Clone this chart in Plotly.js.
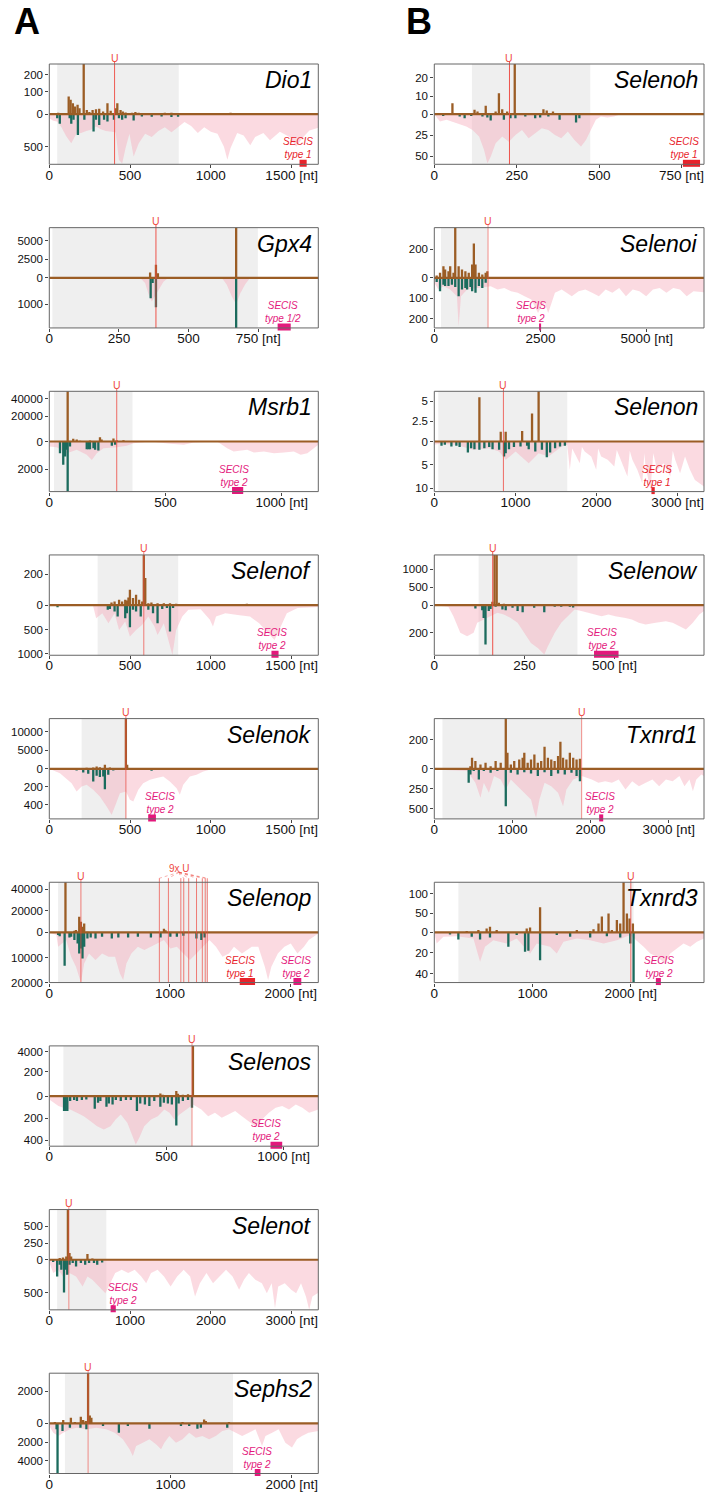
<!DOCTYPE html>
<html><head><meta charset="utf-8">
<script src="https://cdn.plot.ly/plotly-3.0.1.min.js"></script>
<style>body{margin:0;background:#fff}#chart{width:707px;height:1493px}</style>
</head><body><div id="chart"></div>
<script>
// ================= DATA =================
const genes = ['Dio1','Gpx4','Msrb1','Selenof','Selenok','Selenop','Selenos','Selenot','Sephs2','Selenoh','Selenoi','Selenon','Selenow','Txnrd1','Txnrd3'];
const cdsStart = [49,11,20,299,200,73,60,97,129,114,159,49,123,104,245];
const cdsEnd   = [801,749,358,798,478,1315,609,706,1515,473,1265,1639,397,1886,2029];
const secPos = [[404],[383],[290],[585],[474],[262,912,987,1090,1114,1155,1220,1268,1292,1309],[609],[242],[320],[228],[1265],[852],[162],[1886],[2001]];
const secis = [
 [[1549,1593,'type 1']],[[820,867,'type 1/2']],[[786,834,'type 2']],[[1375,1419,'type 2']],[[612,660,'type 2']],
 [[1578,1705,'type 1'],[2023,2088,'type 2']],[[944,994,'type 2']],[[759,823,'type 2']],[[1695,1742,'type 2']],
 [[754,806,'type 1']],[[2466,2514,'type 2']],[[2677,2718,'type 1']],[[443,511,'type 2']],[[2110,2162,'type 2']],[[2256,2307,'type 2']]
];
// x-axis lengths [nt] and ticks
const xMax = [1665,966,1157,1665,1665,2229,1148,3329,2219,818,6349,3325,748,3452,2746];
const xTicks = [[0,500,1000,1500],[0,250,500,750],[0,500,1000],[0,500,1000,1500],[0,500,1000,1500],[0,1000,2000],[0,500,1000],[0,1000,2000,3000],[0,1000,2000],[0,250,500,750],[0,2500,5000],[0,1000,2000,3000],[0,250,500],[0,1000,2000,3000],[0,1000,2000]];
// upper (footprint) and lower (coverage) scales
const topMax = [263,6750,48700,327,13600,46500,5160,750,3130,27.7,353,6.25,1400,343,129.5];
const topTicks = [[0,100,200],[0,2500,5000],[0,20000,40000],[0,200],[0,5000,10000],[0,20000,40000],[0,200,4000],[0,250,500],[0,2000],[0,10,20],[0,200],[0,2.5,5],[0,500,1000],[0,200],[0,50,100]];
const topBreak = [[100,0.446],null,[20000,0.5],null,null,null,[200,0.488],null,null,null,null,null,null,null,null];
const botMax = [772,1900,3623,1027,554,20000,455,758,5350,59.5,244,10.7,362,630,48.8];
const botTicks = [[500],[1000],[2000],[500,1000],[200,400],[10000,20000],[200,400],[500],[2000,4000],[25,50],[100,200],[5,10],[200],[250,500],[20,40]];

// per gene: [position nt, value]
const dio1Top = [[55,7],[120,79],[132,64],[146,49],[159,34],[175,42],[187,27],[213,300],[232,19],[248,10],[268,19],[289,22],[309,24],[333,12],[360,49],[380,15],[411,27],[421,49],[441,19],[455,12],[472,8],[512,7],[533,10],[553,6],[614,5],[675,5],[715,6],[756,6],[787,5],[1122,7]];
const dio1Bot = [[49,62],[65,149],[126,62],[136,149],[150,87],[177,319],[217,87],[274,268],[289,87],[309,165],[339,87],[360,113],[400,87],[431,62],[451,87],[472,62],[522,98],[573,36],[634,40],[695,36],[756,45],[797,40]];
const dio1Cov = [[0,62],[24,100],[49,113],[75,200],[106,345],[136,448],[167,300],[197,290],[228,257],[258,240],[289,190],[319,230],[350,257],[380,270],[411,280],[431,700],[451,760],[472,520],[496,300],[522,650],[553,450],[593,300],[634,350],[675,260],[715,200],[756,280],[797,200],[837,120],[878,180],[919,290],[959,200],[1000,270],[1041,300],[1081,500],[1102,700],[1122,520],[1163,290],[1203,330],[1244,480],[1274,350],[1325,290],[1366,400],[1427,270],[1488,350],[1528,500],[1569,360],[1610,250],[1665,210]];
const gpx4Top = [[362,720],[383,1755],[390,630],[671,7500]];
const gpx4Bot = [[364,773],[371,200],[383,1115],[671,2100]];
const gpx4Cov = [[0,0],[326,0],[344,200],[356,600],[368,900],[380,700],[392,500],[410,150],[428,0],[619,0],[637,250],[655,700],[671,1000],[685,600],[703,250],[721,0],[966,0]];
const msrb1Top = [[68,400],[79,52000],[103,2200],[118,1600],[132,500],[175,800],[218,3300],[225,1600],[276,2300],[290,1000],[319,1000]];
const msrb1Bot = [[46,845],[60,1690],[68,1087],[75,600],[79,4000],[89,360],[161,555],[168,555],[175,555],[190,483],[197,600],[211,650],[269,314],[283,240]];
const msrb1Cov = [[0,362],[32,410],[75,845],[118,600],[161,966],[183,1330],[204,845],[233,483],[290,410],[333,314],[362,120],[434,0],[520,170],[578,240],[621,72],[722,0],[765,483],[793,725],[851,600],[880,797],[923,725],[966,845],[1009,797],[1052,725],[1081,966],[1110,845],[1157,240]];
const selenofTop = [[51,5],[385,17],[404,24],[432,35],[451,24],[470,35],[480,30],[490,50],[499,100],[518,46],[537,68],[556,35],[575,24],[585,360],[594,177],[613,13],[632,17],[670,13],[709,13],[747,13],[785,9],[1223,9]];
const selenofBot = [[51,41],[362,96],[375,80],[404,130],[423,233],[470,267],[480,164],[499,452],[518,96],[537,130],[566,233],[613,96],[642,164],[670,370],[699,80],[728,60],[747,541],[766,60]];
const selenofCov = [[0,0],[270,0],[290,267],[328,164],[366,370],[404,164],[432,507],[470,336],[499,644],[537,507],[575,404],[613,233],[651,438],[670,610],[709,370],[747,850],[762,1020],[785,507],[823,233],[861,96],[937,82],[994,301],[1013,438],[1032,233],[1090,164],[1166,200],[1242,233],[1299,370],[1356,575],[1394,712],[1423,507],[1470,164],[1537,60],[1665,40]];
const selenokTop = [[231,272],[272,363],[293,635],[313,450],[344,1090],[375,363],[474,15000],[482,1090],[1489,180]];
const selenokBot = [[169,18],[210,41],[241,55],[272,140],[293,77],[313,92],[334,85],[344,225],[365,66],[396,18],[633,22]];
const selenokCov = [[0,0],[66,48],[138,159],[169,251],[200,196],[231,177],[272,232],[313,306],[355,417],[386,509],[406,417],[437,269],[474,251],[499,343],[520,362],[551,232],[581,159],[623,122],[664,103],[705,85],[746,140],[788,214],[808,288],[829,177],[870,85],[911,66],[953,30],[984,18],[1014,0],[1665,0]];
const selenopTop = [[134,50000],[208,1500],[221,2170],[248,14570],[262,9920],[275,5270],[289,8370],[316,600],[400,400],[600,500],[950,3410],[963,2000],[1100,500]];
const selenopBot = [[73,1064],[86,1500],[127,13300],[167,2000],[181,1700],[208,3060],[235,4390],[248,8380],[262,6380],[275,10370],[289,5720],[316,2400],[343,2000],[383,2400],[437,1700],[518,2400],[572,2000],[653,2000],[734,1700],[842,2000],[922,2000],[1003,1700],[1057,1700],[1111,1300],[1219,2400],[1260,3060],[1287,2000]];
const selenopCov = [[0,0],[59,1064],[73,5720],[140,3060],[181,9700],[221,13700],[262,20000],[289,12370],[329,8380],[383,11040],[437,8380],[491,9700],[545,9700],[585,16360],[612,19000],[639,12370],[680,8380],[734,5720],[788,7000],[842,5720],[896,4390],[950,3060],[1003,6380],[1057,5720],[1111,8380],[1165,11040],[1219,8380],[1273,5720],[1327,3060],[1381,5720],[1435,9700],[1489,8380],[1530,5720],[1596,8380],[1678,5720],[1732,5720],[1786,13700],[1813,19000],[1840,13700],[1894,8380],[1948,5720],[2001,4390],[2056,8380],[2110,5720],[2150,3060],[2229,400]];
const selenosTop = [[161,8],[474,22],[484,12],[542,41],[549,20],[570,12],[592,16],[613,5500]];
const selenosBot = [[63,136],[70,136],[77,136],[89,45],[106,36],[118,45],[139,36],[158,30],[194,115],[208,60],[218,45],[244,97],[254,67],[270,76],[284,36],[305,45],[327,36],[348,36],[374,136],[388,67],[408,76],[427,91],[448,45],[474,97],[489,61],[506,67],[523,76],[542,267],[552,67],[570,45],[592,36],[609,106]];
const selenosCov = [[0,30],[17,60],[39,91],[60,106],[89,121],[118,152],[147,182],[175,227],[204,273],[233,303],[261,273],[283,212],[305,167],[333,242],[355,364],[369,440],[384,379],[405,273],[434,212],[463,182],[491,121],[513,152],[534,212],[556,167],[585,121],[613,76],[649,121],[678,182],[707,152],[736,197],[764,167],[793,136],[822,182],[851,227],[879,273],[908,212],[937,152],[966,106],[994,91],[1023,121],[1052,76],[1080,106],[1109,152],[1148,121]];
const selenotTop = [[129,25],[169,35],[210,50],[230,900],[250,100],[270,50],[472,85],[533,20],[613,10]];
const selenotBot = [[48,35],[97,253],[129,76],[149,152],[182,495],[202,152],[222,227],[250,76],[290,50],[331,101],[391,50],[444,76],[492,50],[553,50],[593,76],[654,40]];
const selenotCov = [[0,35],[48,202],[109,152],[169,253],[250,202],[331,253],[412,404],[472,253],[533,303],[613,404],[694,505],[755,354],[815,202],[896,152],[977,202],[1057,152],[1138,253],[1199,354],[1259,202],[1340,152],[1420,253],[1501,404],[1582,253],[1663,152],[1743,253],[1804,556],[1864,354],[1945,202],[2026,354],[2106,253],[2187,152],[2268,253],[2349,455],[2409,303],[2470,202],[2550,303],[2631,354],[2692,505],[2752,354],[2793,732],[2833,404],[2914,354],[2994,455],[3055,505],[3115,354],[3176,556],[3216,758],[3256,556],[3329,500]];
const sephs2Top = [[46,82],[115,205],[178,349],[211,82],[260,410],[279,205],[301,143],[320,3500],[334,492],[347,349],[1099,82],[1277,246],[1291,143],[1482,82]];
const sephs2Bot = [[60,637],[68,5600],[109,814],[170,460],[257,460],[306,637],[443,283],[574,991],[648,283],[826,566],[1086,283],[1154,283],[1222,566],[1250,460],[1468,460]];
const sephs2Cov = [[0,283],[33,991],[74,1345],[115,991],[170,637],[224,460],[306,637],[388,460],[470,637],[539,991],[607,1700],[662,2760],[689,3470],[716,2407],[771,2053],[826,1700],[880,2230],[922,2760],[949,2053],[990,1345],[1045,2053],[1099,1700],[1154,991],[1209,1522],[1263,1345],[1318,1700],[1373,1345],[1427,814],[1482,637],[1537,991],[1591,1345],[1646,991],[1701,637],[1755,2407],[1783,1345],[1838,991],[1892,637],[1947,2053],[2002,2584],[2043,1700],[2084,1345],[2138,991],[2219,814]];
const selenohTop = [[55,6.1],[122,2.4],[131,1.5],[156,4.6],[186,1.5],[196,11.6],[206,2.8],[221,1.5],[244,30],[331,2.8],[341,2],[360,1.5]];
const selenohBot = [[27,2],[77,2.8],[92,4.8],[112,2],[146,2.8],[161,4],[171,7.5],[211,6.7],[231,4.8],[246,4.8],[276,2.8],[306,4.8],[321,4],[346,2.8],[380,6.7],[430,9.9],[440,4.8]];
const selenohCov = [[0,0],[17,8.7],[37,6.7],[67,10.7],[97,14.7],[116,18.7],[136,26.6],[151,42.5],[161,58.4],[171,50.4],[186,34.5],[206,26.6],[226,32.6],[246,24.6],[266,18.7],[286,28.6],[306,22.6],[326,16.7],[346,18.7],[366,24.6],[385,28.6],[405,20.6],[425,30.6],[445,38.5],[460,30.6],[475,18.7],[490,6.7],[505,2.8],[525,4],[545,2.8],[565,0],[818,0]];
const selenoiTop = [[56,16],[135,35],[215,82],[255,59],[334,47],[374,82],[453,35],[493,370],[573,82],[652,59],[732,47],[811,35],[891,94],[931,242],[970,94],[1050,35],[1130,24],[1209,35],[1249,47]];
const selenoiBot = [[56,20],[135,65],[215,33],[255,40],[334,40],[414,33],[493,45],[573,90],[652,57],[732,50],[772,57],[851,45],[891,65],[970,73],[1050,40],[1130,49],[1209,24]];
const selenoiCov = [[0,24],[95,57],[215,41],[374,57],[533,90],[573,236],[628,90],[772,57],[1010,49],[1329,41],[1488,57],[1647,49],[1806,65],[1965,73],[2124,90],[2283,106],[2442,171],[2522,138],[2601,122],[2681,171],[2760,122],[2840,73],[2999,57],[3237,90],[3397,65],[3556,57],[3715,73],[3874,90],[4033,57],[4193,73],[4352,49],[4511,90],[4670,57],[4829,65],[4988,90],[5147,57],[5306,49],[5465,73],[5624,49],[5784,57],[5943,90],[6102,65],[6349,70]];
const selenonTop = [[556,5.5],[819,1.2],[880,1.2],[1083,1.3],[1205,3.5],[1286,6.5]];
const selenonBot = [[89,0.93],[130,0.71],[211,1.07],[272,0.93],[312,1.2],[414,2.35],[454,1.43],[495,1.64],[556,1.78],[617,1.43],[677,1.2],[718,1.64],[799,1.78],[860,3.2],[880,2.5],[921,1.64],[982,1.2],[1063,1.07],[1144,0.93],[1164,1.64],[1245,2.14],[1327,1.78],[1387,3.35],[1428,2.35],[1489,1.43],[1550,1.07],[1610,0.93]];
const selenonCov = [[0,0.71],[69,0.5],[272,0.71],[475,1.78],[677,1.43],[799,2.14],[880,3.92],[1002,2.14],[1164,4.63],[1286,2.5],[1408,3.2],[1570,1.07],[1639,0.71],[1671,6.06],[1700,1.5],[1732,2.5],[1793,4.63],[1820,1.2],[1854,2.14],[1935,3.2],[1996,6.06],[2020,1.5],[2057,3.2],[2138,3.92],[2219,5.35],[2250,1.8],[2300,3.92],[2381,7.49],[2410,2.0],[2442,3.92],[2503,6.06],[2564,8.91],[2590,2.5],[2604,5.35],[2665,10.3],[2700,2.5],[2746,6.06],[2827,4.63],[2909,7.49],[2940,2.0],[2970,3.92],[3030,6.77],[3091,3.2],[3152,6.06],[3213,8.2],[3325,9.6]];
const selenowTop = [[161,93],[167,1600],[173,1600],[179,65],[193,37],[212,28]];
const selenowBot = [[114,24],[133,36],[137,92],[142,285],[151,43],[156,27],[170,12],[189,31],[198,36],[217,19],[231,43],[245,51],[277,19],[305,51],[334,12],[352,12],[376,12],[385,17]];
const selenowCov = [[0,0],[39,12],[53,80],[72,200],[91,224],[109,200],[119,128],[137,104],[156,80],[175,55],[193,68],[212,92],[231,128],[249,200],[268,273],[287,309],[305,357],[315,297],[334,200],[352,128],[371,80],[389,31],[408,43],[427,55],[445,68],[464,80],[483,68],[502,80],[530,92],[548,104],[567,128],[586,140],[614,128],[642,116],[661,128],[679,152],[698,176],[717,128],[735,68],[748,43]];
const txnrd1Top = [[462,18],[483,75],[526,53],[591,30],[656,41],[721,18],[785,53],[850,41],[915,360],[936,110],[980,30],[1023,53],[1087,64],[1131,75],[1152,110],[1195,41],[1238,64],[1281,98],[1325,41],[1368,53],[1411,151],[1454,75],[1497,64],[1540,53],[1584,87],[1614,185],[1648,75],[1691,64],[1735,110],[1778,75],[1821,64],[1864,69]];
const txnrd1Bot = [[440,176],[462,71],[505,29],[570,134],[634,29],[721,50],[807,29],[915,470],[980,50],[1066,71],[1152,42],[1238,59],[1325,92],[1411,42],[1497,92],[1584,59],[1670,71],[1756,50],[1821,92],[1864,155]];
const txnrd1Cov = [[0,8],[419,29],[526,176],[591,365],[634,176],[699,302],[764,92],[850,134],[915,260],[980,134],[1066,218],[1152,302],[1238,386],[1281,554],[1303,617],[1346,386],[1411,176],[1497,218],[1584,302],[1648,470],[1691,260],[1778,134],[1886,92],[2015,134],[2101,176],[2187,155],[2274,176],[2360,134],[2447,260],[2533,155],[2619,218],[2706,176],[2792,134],[2878,218],[2965,134],[3051,155],[3137,92],[3202,218],[3266,134],[3310,281],[3353,134],[3418,71],[3452,92]];
const txnrd3Top = [[330,4],[449,6],[533,10],[567,15],[635,6],[941,10],[975,13],[1077,65],[1451,6],[1587,4],[1621,8],[1672,23],[1706,41],[1774,49],[1808,6],[1859,32],[1893,23],[1927,140],[1961,49],[1988,36],[2022,23]];
const txnrd3Bot = [[160,2],[245,6.8],[381,4.2],[466,6.8],[567,4.9],[754,14],[839,2.6],[924,18.9],[958,17.9],[1077,27],[1247,2.6],[1383,4.2],[1587,4.9],[1757,3.6],[1893,4.9],[1995,10.7],[2029,55]];
const txnrd3Cov = [[0,0],[24,10.7],[92,4.2],[228,3.6],[398,5.9],[466,28.6],[516,14],[601,7.5],[737,10.7],[839,5.9],[975,20.5],[1043,10.7],[1179,14],[1247,20.5],[1315,9.1],[1451,5.9],[1587,7.5],[1723,10.7],[1859,7.5],[1995,2.6],[2131,14],[2199,20.5],[2266,23.7],[2351,30.3],[2402,20.5],[2470,15.6],[2538,10.7],[2606,14],[2674,9.1],[2746,5.9]];

const topData = [dio1Top,gpx4Top,msrb1Top,selenofTop,selenokTop,selenopTop,selenosTop,selenotTop,sephs2Top,selenohTop,selenoiTop,selenonTop,selenowTop,txnrd1Top,txnrd3Top];
const botData = [dio1Bot,gpx4Bot,msrb1Bot,selenofBot,selenokBot,selenopBot,selenosBot,selenotBot,sephs2Bot,selenohBot,selenoiBot,selenonBot,selenowBot,txnrd1Bot,txnrd3Bot];
const covData = [dio1Cov,gpx4Cov,msrb1Cov,selenofCov,selenokCov,selenopCov,selenosCov,selenotCov,sephs2Cov,selenohCov,selenoiCov,selenonCov,selenowCov,txnrd1Cov,txnrd3Cov];

// ================= LAYOUT / STYLE =================
const W = 707, H = 1493;
const colPx = [[49.3,318.3],[434.3,704]];
const rowTop = r => 64 + 163.65*r;
const FAM = 'Liberation Sans, Arial, Helvetica, sans-serif';
const BROWN = '#9b5d25', TEAL = '#1b6b5d', PINK = 'rgba(246,168,184,0.42)', GREY = '#efefef';
const SEC1 = '#e8232b', SEC2 = '#e3187c', URED = '#ee4b43';
const secisShift = [[-5],[-1],[-4],[-3],[8],[-7,-1],[-10],[10],[-1],[-7],[-9],[4],[-4],[-1],[1]];
const uOpacity = [0.9,0.95,0.8,0.7,0.7,0.7,0.6,0.6,0.6,0.95,0.6,0.8,0.95,0.6,0.8];

const axKey = (l,n) => n===1 ? l+'axis' : l+'axis'+n;
const axId = (l,n) => n===1 ? l : l+n;
const py = p => 1 - p/H;

const traces = [], shapes = [], annotations = [];
const layout = {width:W, height:H, margin:{l:0,r:0,t:0,b:0}, paper_bgcolor:'#fff', plot_bgcolor:'rgba(0,0,0,0)',
  showlegend:false, barmode:'overlay', font:{family:FAM, color:'#111'}, shapes, annotations};
const N = genes.length;

genes.forEach((g,i) => {
  const col = i<9 ? 0 : 1, row = i<9 ? i : i-9;
  const [px0,px1] = colPx[col];
  const T = rowTop(row), Z = T + 50.2, B = T + 100.3;
  const xn = i+1, ytn = 2*i+1, ybn = 2*i+2, yon = 2*N+i+1;
  const xid = axId('x',xn), ytid = axId('y',ytn), ybid = axId('y',ybn), yoid = axId('y',yon);
  const br = topBreak[i], tm = topMax[i];
  const tf = v => !br ? v : (v <= br[0] ? v/br[0]*br[1] : br[1] + (v-br[0])/(tm-br[0])*(1-br[1]));
  const w = 2.3 * xMax[i] / (px1-px0);
  const tickBase = {ticks:'outside', ticklen:3, tickcolor:'#444', showgrid:false, zeroline:false, showline:false, fixedrange:true};

  layout[axKey('x',xn)] = Object.assign({domain:[px0/W, px1/W], range:[0, xMax[i]], anchor:ybid,
    tickvals:xTicks[i], ticktext:xTicks[i].map((v,k)=> k===xTicks[i].length-1 ? v+' [nt]' : String(v)),
    ticklabeloverflow:'allow', ticklabelstandoff:-5,
    tickfont:{size:13.5, family:FAM, color:'#111'}}, tickBase);
  layout[axKey('y',ytn)] = Object.assign({domain:[py(Z), py(T)], range: br ? [0,1] : [0,tm], anchor:xid,
    tickvals:topTicks[i].map(tf), ticktext:topTicks[i].map(String),
    tickfont:{size:11.5, family:FAM, color:'#111'}}, tickBase);
  layout[axKey('y',ybn)] = Object.assign({domain:[py(B), py(Z)], range:[botMax[i],0], anchor:xid,
    tickvals:botTicks[i], ticktext:botTicks[i].map(String),
    tickfont:{size:11.5, family:FAM, color:'#111'}}, tickBase);
  // overlay axis (same scale as lower axis) so that lower bars are drawn over the coverage area
  layout[axKey('y',yon)] = {overlaying:ybid, range:[botMax[i],0], anchor:xid, visible:false, fixedrange:true};

  // coverage area
  traces.push({type:'scatter', mode:'lines', x:covData[i].map(p=>p[0]), y:covData[i].map(p=>p[1]),
    xaxis:xid, yaxis:ybid, fill:'tozeroy', fillcolor:PINK, line:{width:0, color:PINK}, hoverinfo:'skip'});
  // lower bars
  traces.push({type:'bar', x:botData[i].map(p=>p[0]), y:botData[i].map(p=>p[1]), width:w,
    xaxis:xid, yaxis:yoid, marker:{color:TEAL, line:{width:0}}, hoverinfo:'skip'});
  // upper bars
  traces.push({type:'bar', x:topData[i].map(p=>p[0]), y:topData[i].map(p=>tf(p[1])), width:w,
    xaxis:xid, yaxis:ytid, marker:{color:BROWN, line:{width:0}}, hoverinfo:'skip'});

  // CDS shading
  shapes.push({type:'rect', xref:xid, yref:'paper', x0:cdsStart[i], x1:cdsEnd[i], y0:py(B), y1:py(T),
    fillcolor:GREY, line:{width:0}, layer:'below'});
  // zero line
  shapes.push({type:'line', xref:'paper', yref:'paper', x0:px0/W, x1:px1/W, y0:py(Z), y1:py(Z),
    line:{color:BROWN, width:2.2}, layer:'above'});
  // Sec codon lines
  const sp = secPos[i];
  const grouped = sp.length > 3;
  sp.forEach((x,k) => {
    const topPx = (grouped && k>0) ? T-4 : T-3;
    shapes.push({type:'line', xref:xid, yref:'paper', x0:x, x1:x, y0:py(B), y1:py(topPx),
      line:{color:URED, width:1}, opacity:uOpacity[i], layer:'above'});
    if (!grouped || k===0) {
      annotations.push({xref:xid, yref:'paper', x:x, y:py(T-6.5), text:'U', showarrow:false,
        font:{size:10.5, color:URED, family:FAM}, yanchor:'middle', xanchor:'center'});
    }
  });
  if (grouped) {
    const g9 = sp.slice(1);
    const mid = (g9[0] + g9[g9.length-1]) / 2;
    annotations.push({xref:xid, yref:'paper', x:mid, xshift:-4, y:py(T-14), text:g9.length+'x U', showarrow:false,
      font:{size:10, color:URED, family:FAM}, yanchor:'middle', xanchor:'center'});
    g9.forEach(x => shapes.push({type:'line', xref:xid, yref:'paper', x0:mid-35, x1:x, y0:py(T-10), y1:py(T-4),
      line:{color:URED, width:0.6, dash:'dot'}, opacity:0.7, layer:'above'}));
  }
  // SECIS elements
  secis[i].forEach((s,k) => {
    const c = s[2]==='type 1' ? SEC1 : SEC2;
    shapes.push({type:'rect', xref:xid, yref:'paper', x0:s[0], x1:s[1], y0:py(B+2.5), y1:py(B-4.5),
      fillcolor:c, line:{width:0}, layer:'above'});
    annotations.push({xref:xid, yref:'paper', x:(s[0]+s[1])/2, xshift:secisShift[i][k], y:py(B-16),
      text:'<i>SECIS<br>'+s[2]+'</i>', showarrow:false, align:'center', xanchor:'center', yanchor:'middle',
      font:{size:10, color:c, family:FAM}});
  });
  // frame
  shapes.push({type:'rect', xref:'paper', yref:'paper', x0:px0/W, x1:px1/W, y0:py(B), y1:py(T),
    line:{color:'#666', width:1}, fillcolor:'rgba(0,0,0,0)', layer:'above'});
  // gene name
  annotations.push({xref:'paper', yref:'paper', x:(px1-4)/W, y:py(T+1), text:'<i>'+g+'</i>', showarrow:false,
    xanchor:'right', yanchor:'top', font:{size:23, color:'#000', family:FAM}});
});

annotations.push({xref:'paper', yref:'paper', x:26.7/W, y:py(22), text:'<b>A</b>', showarrow:false,
  xanchor:'center', yanchor:'middle', font:{size:36, color:'#000', family:FAM}});
annotations.push({xref:'paper', yref:'paper', x:418.7/W, y:py(22), text:'<b>B</b>', showarrow:false,
  xanchor:'center', yanchor:'middle', font:{size:36, color:'#000', family:FAM}});

Plotly.newPlot('chart', traces, layout, {staticPlot:true, displayModeBar:false});
</script>
</body></html>
